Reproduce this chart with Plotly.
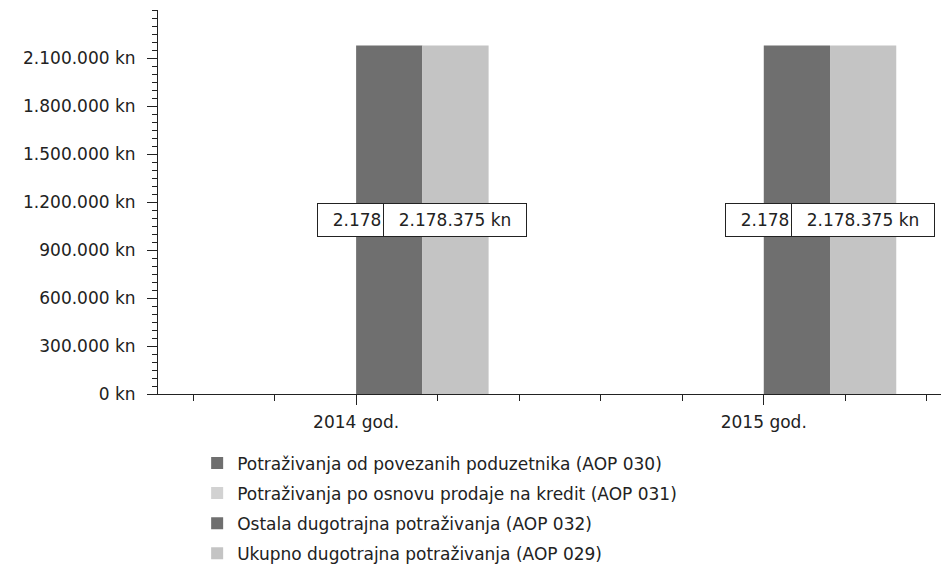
import plotly.graph_objects as go

years = ["2014 god.", "2015 god."]
series_names = [
    "Potraživanja od povezanih poduzetnika (AOP 030)",
    "Potraživanja po osnovu prodaje na kredit (AOP 031)",
    "Ostala dugotrajna potraživanja (AOP 032)",
    "Ukupno dugotrajna potraživanja (AOP 029)",
]
values_030 = [0, 0]
values_031 = [0, 0]
values_032 = [2178375, 2178375]
values_029 = [2178375, 2178375]
series_values = [values_030, values_031, values_032, values_029]
series_colors = ["#6f6f6f", "#d2d2d2", "#6f6f6f", "#c4c4c4"]
y_ticks = [0, 300000, 600000, 900000, 1200000, 1500000, 1800000, 2100000]

FONT = "DejaVu Sans"
FS = 17
TXT = "#222"
x_idx = list(range(len(years)))
bargap = 0.35
n = len(series_values)
bar_w = (1 - bargap) / n


def fmt(v):
    return f"{v:,}".replace(",", ".") + " kn"


fig = go.Figure()
for i, (name, vals, col) in enumerate(zip(series_names, series_values, series_colors)):
    fig.add_trace(go.Bar(
        x=x_idx, y=vals, name=name, legendgroup=f"g{i}",
        marker=dict(color=col, line=dict(width=0)),
    ))

annotations = []
for i, vals in enumerate(series_values):
    if max(vals) <= 0:
        continue
    off = -0.5 * (1 - bargap) + (i + 0.5) * bar_w
    for xi, v in zip(x_idx, vals):
        annotations.append(dict(
            x=xi + off, y=v / 2, xref="x", yref="y", text=fmt(v),
            showarrow=False, font=dict(family=FONT, size=FS, color=TXT),
            bgcolor="white", bordercolor=TXT, borderwidth=1, borderpad=5,
            width=132, height=22,
        ))

fig.update_layout(
    width=949, height=577,
    margin=dict(l=150, r=0, t=2, b=191),
    plot_bgcolor="white", paper_bgcolor="white",
    barmode="group", bargap=bargap, bargroupgap=0,
    font=dict(family=FONT, size=FS, color=TXT),
    showlegend=True,
    legend=dict(
        x=0.049, y=-0.134, xanchor="left", yanchor="top",
        orientation="v", font=dict(family=FONT, size=FS, color=TXT),
        tracegroupgap=5, traceorder="grouped",
    ),
    annotations=annotations,
)
fig.update_xaxes(
    range=[-0.486, 1.474], tickmode="array", tickvals=x_idx, ticktext=years,
    showline=True, linecolor=TXT, linewidth=1, showgrid=False, zeroline=False,
    ticks="outside", ticklen=10, tickcolor=TXT, ticklabelstandoff=3,
    minor=dict(tickmode="linear", tick0=0, dtick=0.2, ticks="outside", ticklen=6, tickcolor=TXT),
    tickfont=dict(family=FONT, size=FS, color=TXT),
)
fig.update_yaxes(
    range=[0, 2400000], tickmode="array", tickvals=y_ticks,
    ticktext=[fmt(v) for v in y_ticks],
    showline=True, linecolor=TXT, linewidth=1, showgrid=False, zeroline=False,
    ticks="outside", ticklen=10, tickcolor=TXT, ticklabelstandoff=8,
    minor=dict(tickmode="linear", tick0=0, dtick=50000, ticks="outside", ticklen=5, tickcolor=TXT),
    tickfont=dict(family=FONT, size=FS, color=TXT),
)

fig.write_html("out.html")
